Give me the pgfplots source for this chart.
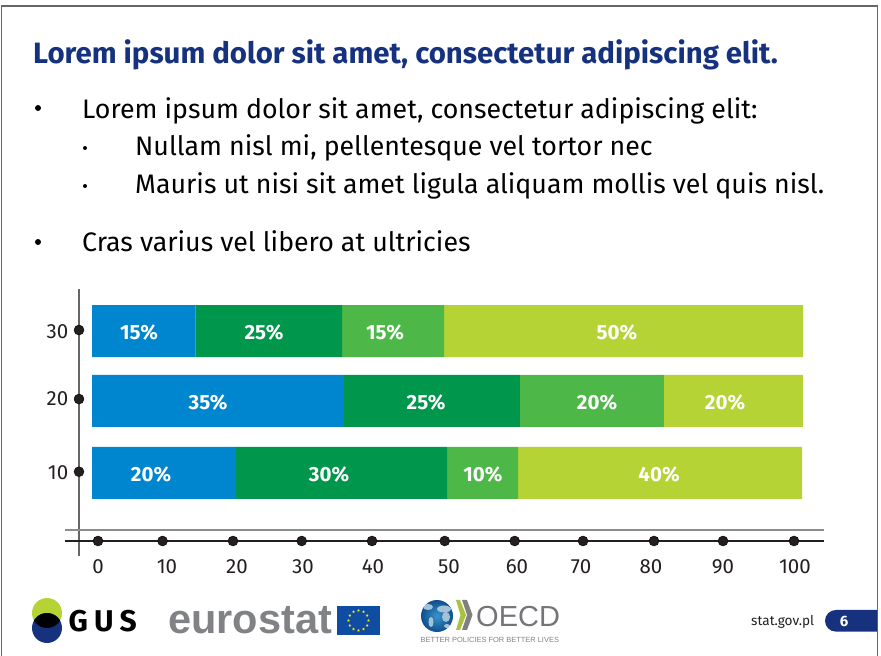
\documentclass[border=0pt]{standalone}
\usepackage{fontspec}
\setmainfont{Fira Sans}
\newfontfamily\lib{Liberation Sans}
\usepackage{pgfplots}
\pgfplotsset{compat=1.18}
\usetikzlibrary{shapes.geometric}
\definecolor{cBlue}{HTML}{0085CF}
\definecolor{cDark}{HTML}{00964B}
\definecolor{cGreen}{HTML}{4DB848}
\definecolor{cLime}{HTML}{B5D334}
\definecolor{navy}{HTML}{16327F}
\definecolor{ink}{HTML}{231F20}
\definecolor{frame}{HTML}{666666}
\definecolor{gline}{HTML}{8C8C8C}
\definecolor{eugray}{HTML}{808285}
\definecolor{euflag}{HTML}{0F4DA2}
\definecolor{globeA}{HTML}{3A92CC}
\definecolor{globeB}{HTML}{0E4F8C}
\definecolor{land}{HTML}{A4C2D6}
\newcommand{\fs}[1]{\fontsize{#1}{#1}\selectfont}
\begin{document}
\begin{tikzpicture}
\useasboundingbox (0,0) rectangle (881pt,656pt);
\begin{scope}[x=1pt,y=-1pt,shift={(0pt,656pt)}]
\draw[frame,line width=1.5pt] (1.5,656) -- (1.5,6) -- (877.5,6) -- (877.5,656);
\node[anchor=base west,inner sep=0,text=navy,font=\fs{29.4}\bfseries] at (33,63.5) {Lorem ipsum dolor sit amet, consectetur adipiscing elit.};
\node[anchor=base west,inner sep=0,text=black,font=\fs{26.75}] at (82,118.2) {Lorem ipsum dolor sit amet, consectetur adipiscing elit:};
\node[anchor=base west,inner sep=0,text=black,font=\fs{26.75}] at (135,155.8) {Nullam nisl mi, pellentesque vel tortor nec};
\node[anchor=base west,inner sep=0,text=black,font=\fs{26.75}] at (135,193.8) {Mauris ut nisi sit amet ligula aliquam mollis vel quis nisl.};
\node[anchor=base west,inner sep=0,text=black,font=\fs{26.75}] at (82,251.8) {Cras varius vel libero at ultricies};
\fill[black] (38,108) circle (3) (38,242) circle (3) (85,148) circle (2) (85,186) circle (2);
% GUS logo
\fill[cLime] (47,613) circle (15);
\fill[navy] (47,628) circle (15);
\begin{scope}\clip (47,613) circle (15); \fill[black] (47,628) circle (15);\end{scope}
\node[anchor=base west,inner sep=0,text=black,font=\fs{30}\bfseries] at (68.5,631.5) {G\kern6pt U\kern6pt S};
% eurostat
\node[anchor=base west,inner sep=0,text=eugray,font=\lib\fs{41.5}\bfseries] at (168,634) {eurostat};
\fill[euflag] (337,606) rectangle (380,635);
\foreach \a in {0,30,...,330}
  \node[star,star points=5,star point ratio=2.2,fill=yellow!90!orange,inner sep=0,minimum size=3pt] at ({358.5+10*cos(\a)},{620.5+10*sin(\a)}) {};
% OECD
\shade[inner color=globeA,outer color=globeB] (437,616) circle (16);
\begin{scope}\clip (437,616) circle (16);
\fill[land] (428,607) ellipse (5 and 3) (444,609) ellipse (7 and 3.5) (446,617) ellipse (4 and 5) (431,622) ellipse (2.5 and 5) (447,626) ellipse (3 and 2);
\end{scope}
\fill[cLime!80!gray] (456,600) -- (460,600) -- (466,615) -- (460,630) -- (456,630) -- (460.5,615) -- cycle;
\fill[gray] (462,600) -- (467,600) -- (472.5,615) -- (467,630) -- (462,630) -- (467,615) -- cycle;
\node[anchor=base west,inner sep=0,text=eugray!90!black,font=\lib\fs{29}] at (476,627) {OECD};
\node[anchor=base west,inner sep=0,text=eugray,font=\lib\fs{7.45}] at (420.5,642.5) {BETTER POLICIES FOR BETTER LIVES};
% footer
\node[anchor=base west,inner sep=0,text=ink,font=\fs{13.6}] at (751,626) {stat.gov.pl};
\fill[navy] (877,610) -- (835.8,610) arc[start angle=270,end angle=90,radius=10.8] -- (877,631.6) -- cycle;
\node[anchor=base,inner sep=0,text=white,font=\fs{15}\bfseries] at (844,626.5) {6};
\end{scope}
\begin{axis}[
  at={(79pt,115pt)},anchor=south west,scale only axis,width=745pt,height=252pt,
  xbar stacked,bar width=52pt,clip=false,
  xmin=-1.83,xmax=102.95,ymin=0.213,ymax=35.96,
  axis lines=left,
  x axis line style={-,color=ink,line width=1.2pt},
  y axis line style={-,color=frame,line width=1.2pt},
  major tick length=0pt,
  xtick={0.84,10.55,20.39,29.68,39.52,50.21,59.77,68.78,78.62,88.75,98.87},
  xticklabels={0,10,20,30,40,50,60,70,80,90,100},
  ytick={29.86,20.35,9.86},
  yticklabels={30,20,10},
  x tick label style={font=\fs{20.5},text=ink,anchor=center,yshift=-26pt,inner sep=0},
  y tick label style={font=\fs{20.5},text=ink,anchor=east,xshift=-10.5pt,inner sep=0},
  every axis plot/.append style={draw=none},
]
\addplot[fill=cBlue] coordinates {(20.25,9.86) (35.44,20.1) (14.58,30)};
\addplot[fill=cDark] coordinates {(29.68,9.86) (24.75,20.1) (20.58,30)};
\addplot[fill=cGreen] coordinates {(9.99,9.86) (20.25,20.1) (14.35,30)};
\addplot[fill=cLime] coordinates {(39.94,9.86) (19.55,20.1) (50.49,30)};
% reference lines through the axis
\addplot[sharp plot,stack plots=false,draw=gline,line width=1.2pt] coordinates {(-3.8,1.77) (102.95,1.77)};
\addplot[sharp plot,stack plots=false,draw=ink,line width=1.2pt] coordinates {(-3.8,0.213) (102.95,0.213)};
\addplot[sharp plot,stack plots=false,draw=frame,line width=1.2pt] coordinates {(-1.83,-1.91) (-1.83,35.96)};
% axis dots
\addplot[sharp plot,stack plots=false,draw=none,mark=*,mark size=5pt,mark options={draw=none,fill=ink}] coordinates {(0.84,0.213) (9.92,0.213) (19.83,0.213) (29.49,0.213) (39.38,0.213) (49.61,0.213) (59.45,0.213) (69.06,0.213) (79.04,0.213) (88.75,0.213) (98.73,0.213)};
\addplot[sharp plot,stack plots=false,draw=none,mark=*,mark size=5pt,mark options={draw=none,fill=ink}] coordinates {(-1.83,30.14) (-1.83,20.35) (-1.83,10.04)};
\end{axis}
% percentage labels, on an overlaid axis with the same scales
\begin{axis}[
  at={(79pt,115pt)},anchor=south west,scale only axis,width=745pt,height=252pt,
  clip=false,hide axis,
  xmin=-1.83,xmax=102.95,ymin=0.213,ymax=35.96,
]
\addplot[draw=none,mark=none,point meta=explicit symbolic,nodes near coords,
  every node near coord/.style={anchor=center,text=white,inner sep=0,font=\fs{20.5}\bfseries}]
 coordinates {
 (6.61,29.72)[15\%] (24.19,29.72)[25\%] (41.21,29.72)[15\%] (73.84,29.72)[50\%]
 (16.32,19.83)[35\%] (46.98,19.83)[25\%] (71.03,19.83)[20\%] (89.03,19.83)[20\%]
 (8.30,9.62)[20\%] (33.33,9.62)[30\%] (54.99,9.62)[10\%] (79.75,9.62)[40\%]};
\end{axis}
\end{tikzpicture}
\end{document}
